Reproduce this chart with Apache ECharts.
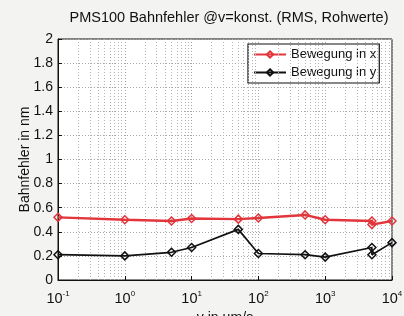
<!DOCTYPE html>
<html><head><meta charset="utf-8">
<script src="https://cdn.jsdelivr.net/npm/echarts@6/dist/echarts.min.js"></script>
<style>html,body{margin:0;padding:0;background:#f3f3f1;}#c{width:404px;height:316px;}</style>
</head><body><div id="c"></div>
<script>
const title = 'PMS100 Bahnfehler @v=konst. (RMS, Rohwerte)';
const xName = 'v in µm/s';
const yName = 'Bahnfehler in nm';
const seriesNames = ['Bewegung in x', 'Bewegung in y'];
const speeds = [0.1, 1, 5, 10, 50, 100, 500, 1000, 5000, 5000, 10000];
const errX = [0.52, 0.50, 0.49, 0.51, 0.505, 0.515, 0.54, 0.50, 0.49, 0.46, 0.49];
const errY = [0.21, 0.20, 0.23, 0.27, 0.42, 0.22, 0.21, 0.19, 0.27, 0.21, 0.31];
const minorGrid = [];
[0.1, 1, 10, 100, 1000].forEach(d => { for (let k = 2; k <= 9; k++) minorGrid.push(+(d * k).toPrecision(3)); });

const font = 'Liberation Sans, Arial, sans-serif';
const chart = echarts.init(document.getElementById('c'));
const mk = (name, vals, color, w) => ({
  name, type: 'line', data: speeds.map((s, i) => [s, vals[i]]),
  symbol: 'diamond', symbolSize: 8, showSymbol: true,
  lineStyle: { color, width: w }, itemStyle: { color: 'rgba(255,255,255,0)', borderColor: color, borderWidth: 1.5 },
  emphasis: { disabled: true }, z: 5
});
const sx = mk(seriesNames[0], errX, '#e2363c', 2.4);
const sy = mk(seriesNames[1], errY, '#111111', 1.7);
sx.markLine = {
  silent: true, symbol: 'none', label: { show: false },
  lineStyle: { color: '#b5b5b5', type: [1, 2], width: 1 },
  data: minorGrid.map(v => ({ xAxis: v }))
};
chart.setOption({
  animation: false,
  backgroundColor: '#f3f3f1',
  textStyle: { fontFamily: font },
  title: { text: title, left: 224, top: 5, textAlign: 'center',
    textStyle: { fontFamily: font, fontSize: 14.5, fontWeight: 'normal', color: '#111' } },
  grid: { left: 58, right: 12, top: 39, bottom: 36, containLabel: false, outerBoundsMode: 'none',
    show: true, backgroundColor: '#ffffff', borderColor: '#111', borderWidth: 1 },
  legend: {
    data: seriesNames, left: 248, top: 44, orient: 'vertical', itemGap: 5, itemWidth: 32, itemHeight: 8,
    backgroundColor: '#fff', borderColor: '#111', borderWidth: 1.2, borderRadius: 0, padding: [4, 3, 4, 5],
    textStyle: { fontFamily: font, fontSize: 13, color: '#111' }
  },
  xAxis: {
    type: 'log', logBase: 10, min: 0.1, max: 10000,
    name: xName, nameLocation: 'middle', nameGap: 31, nameMoveOverlap: false,
    nameTextStyle: { fontFamily: font, fontSize: 14, color: '#111', verticalAlign: 'top' },
    axisLine: { lineStyle: { color: '#111' } },
    axisTick: { inside: true, length: 4, lineStyle: { color: '#111' } },
    splitLine: { show: true, lineStyle: { color: '#a5a5a5', type: [1, 2] } },
    axisLabel: {
      margin: 10, color: '#111',
      formatter: v => '{b|10}{s|' + Math.round(Math.log10(v)) + '}',
      rich: { b: { fontSize: 14.5, fontFamily: font, color: '#111' }, s: { fontSize: 8, fontFamily: font, color: '#111', verticalAlign: 'top', padding: [0, 0, 9, 0] } }
    }
  },
  yAxis: {
    type: 'value', min: 0, max: 2, interval: 0.2,
    name: yName, nameLocation: 'middle', nameGap: 26, nameMoveOverlap: false,
    nameTextStyle: { fontFamily: font, fontSize: 14, color: '#111' },
    axisLine: { show: true, lineStyle: { color: '#111' } },
    axisTick: { show: true, inside: true, length: 4, lineStyle: { color: '#111' } },
    splitLine: { show: true, lineStyle: { color: '#a5a5a5', type: [1, 2] } },
    axisLabel: { margin: 5, fontSize: 14, color: '#111', formatter: v => String(+v.toFixed(1)) }
  },
  series: [sx, sy]
});
</script></body></html>
